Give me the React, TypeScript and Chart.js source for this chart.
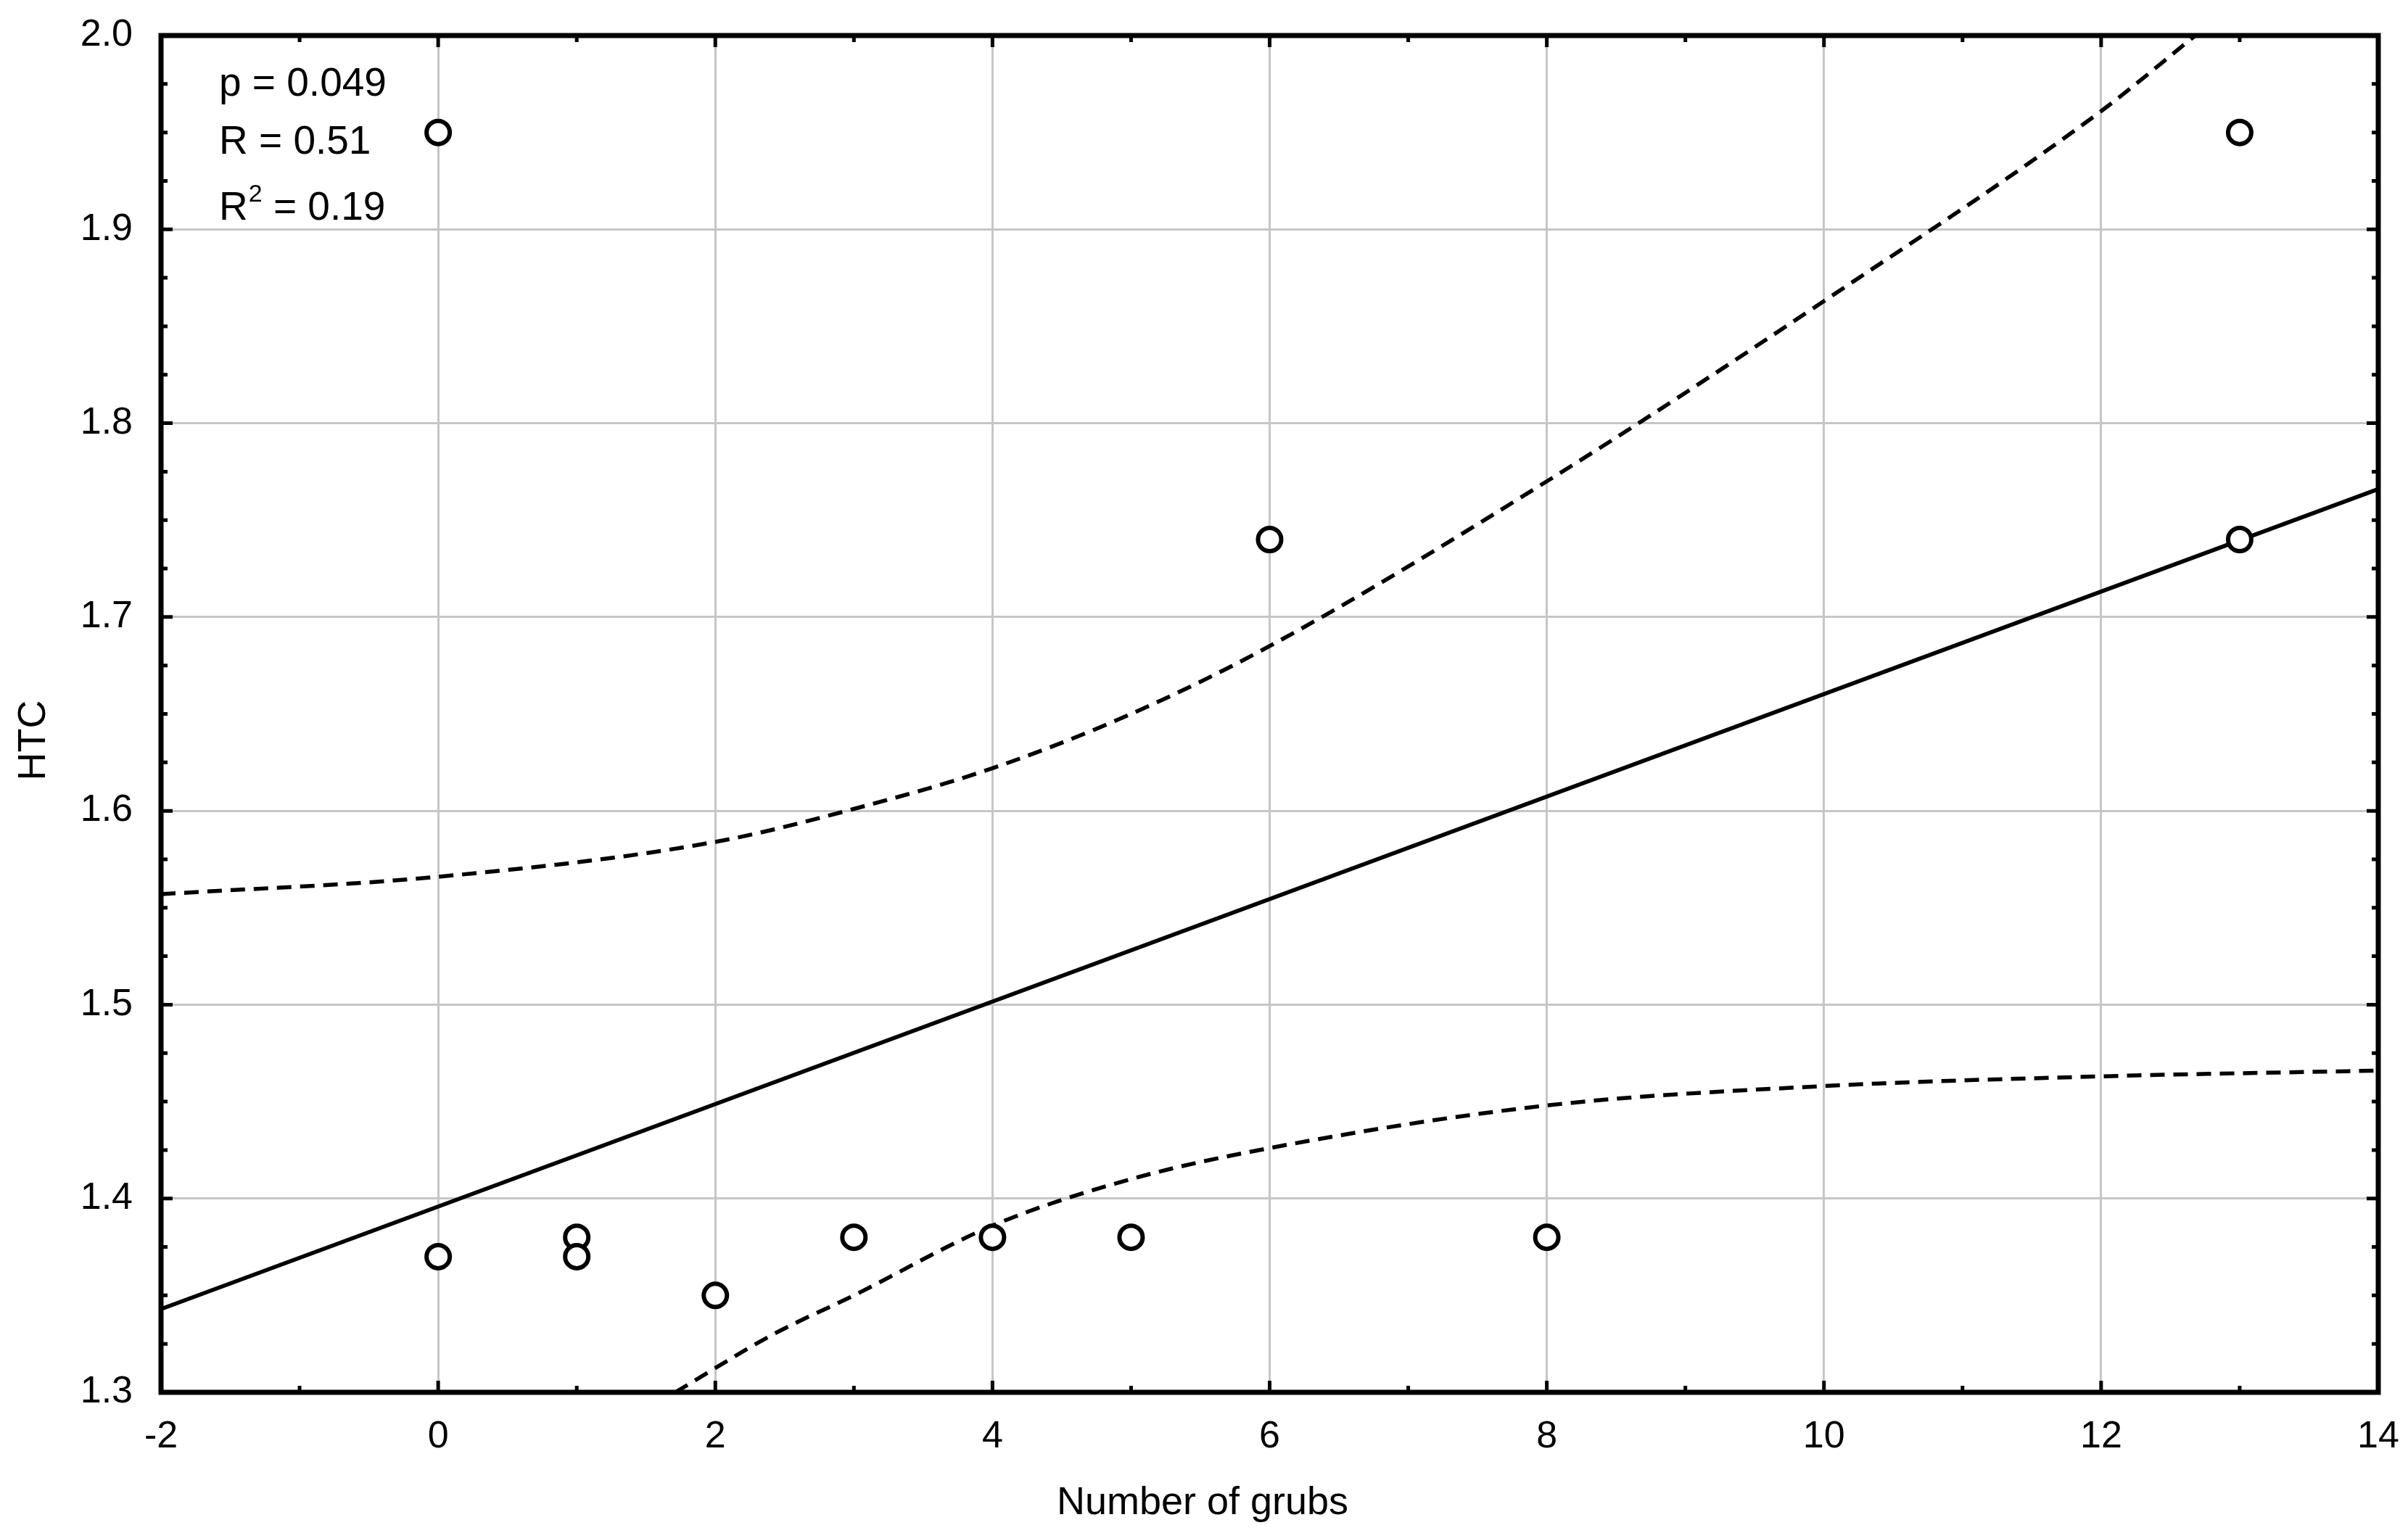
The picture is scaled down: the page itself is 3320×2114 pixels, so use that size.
import React, { useEffect, useRef } from "react";
import { Chart, registerables } from "chart.js";

Chart.register(...registerables);

// ---- data ----
const grubs = [0, 0, 1, 1, 2, 3, 4, 5, 6, 8, 13, 13];
const htc = [1.95, 1.37, 1.38, 1.37, 1.35, 1.38, 1.38, 1.38, 1.74, 1.38, 1.95, 1.74];

const fitX = [-2, 14];
const fitY = [1.343, 1.766];

const upperX = [-2, 0, 2, 3, 4, 5, 6, 8, 10, 12, 12.68];
const upperY = [1.557, 1.566, 1.584, 1.601, 1.622, 1.65, 1.685, 1.77, 1.863, 1.961, 2.0];

const lowerX = [1.71, 2.42, 3, 4, 5, 6, 8, 10, 12, 14];
const lowerY = [1.3, 1.33, 1.35, 1.386, 1.41, 1.426, 1.448, 1.458, 1.463, 1.466];

const xTickValues = [-2, 0, 2, 4, 6, 8, 10, 12, 14];
const xMinorTickValues = [-1, 1, 3, 5, 7, 9, 11, 13];
const yTickLabels = ["1.3", "1.4", "1.5", "1.6", "1.7", "1.8", "1.9", "2.0"];
const yMinorStep = 0.025;

const statP = "p = 0.049";
const statR = "R = 0.51";
const statR2Base = "R";
const statR2Sup = "2";
const statR2Rest = " = 0.19";

const xTitle = "Number of grubs";
const yTitle = "HTC";

const FONT = "'Liberation Sans', Arial, Helvetica, sans-serif";

const W = 3320;
const H = 2114;

const toPts = (xs: number[], ys: number[]) => xs.map((x, i) => ({ x, y: ys[i] }));

const framePlugin = {
  id: "frameAndText",
  afterDraw(chart: any) {
    const { ctx, chartArea: a, scales } = chart;
    const xs = scales.x;
    const ys = scales.y;
    ctx.save();
    ctx.strokeStyle = "#000";
    ctx.lineCap = "butt";
    ctx.lineWidth = 5;
    ctx.beginPath();
    const xAll = [...xTickValues.map((v) => [v, 16]), ...xMinorTickValues.map((v) => [v, 9])];
    for (const [v, len] of xAll) {
      const px = xs.getPixelForValue(v);
      ctx.moveTo(px, a.bottom);
      ctx.lineTo(px, a.bottom - len);
      ctx.moveTo(px, a.top);
      ctx.lineTo(px, a.top + len);
    }
    const n = Math.round((ys.max - ys.min) / yMinorStep);
    for (let i = 0; i <= n; i++) {
      const v = ys.min + i * yMinorStep;
      const py = ys.getPixelForValue(v);
      const len = i % 4 === 0 ? 16 : 9;
      ctx.moveTo(a.left, py);
      ctx.lineTo(a.left + len, py);
      ctx.moveTo(a.right, py);
      ctx.lineTo(a.right - len, py);
    }
    ctx.stroke();

    // frame
    ctx.lineWidth = 7;
    ctx.strokeRect(a.left, a.top, a.right - a.left, a.bottom - a.top);

    // statistics text
    ctx.fillStyle = "#000";
    ctx.textAlign = "left";
    ctx.textBaseline = "alphabetic";
    ctx.font = `55px ${FONT}`;
    const tx = a.left + 80;
    ctx.fillText(statP, tx, 132);
    ctx.fillText(statR, tx, 212);
    ctx.fillText(statR2Base, tx, 303);
    const rw = ctx.measureText(statR2Base).width;
    ctx.font = `34px ${FONT}`;
    ctx.fillText(statR2Sup, tx + rw + 1, 278);
    const sw = ctx.measureText(statR2Sup).width;
    ctx.font = `55px ${FONT}`;
    ctx.fillText(statR2Rest, tx + rw + sw + 1, 303);

    // axis titles
    ctx.font = `54px ${FONT}`;
    ctx.textAlign = "center";
    ctx.fillText(xTitle, 1658, 2088);
    ctx.save();
    ctx.translate(62, 1021);
    ctx.rotate(-Math.PI / 2);
    ctx.fillText(yTitle, 0, 0);
    ctx.restore();

    ctx.restore();
  },
};

export default function App() {
  const ref = useRef<HTMLCanvasElement | null>(null);

  useEffect(() => {
    if (!ref.current) return;
    const chart = new Chart(ref.current, {
      type: "scatter",
      data: {
        datasets: [
          {
            label: "Observations",
            data: toPts(grubs, htc),
            pointStyle: "circle",
            pointRadius: 16,
            pointBorderWidth: 6,
            pointBackgroundColor: "#ffffff",
            pointBorderColor: "#000000",
            showLine: false,
          },
          {
            label: "Regression",
            data: toPts(fitX, fitY),
            showLine: true,
            borderColor: "#000000",
            borderWidth: 5.5,
            pointRadius: 0,
          },
          {
            label: "Upper 95%",
            data: toPts(upperX, upperY),
            showLine: true,
            borderColor: "#000000",
            borderWidth: 5.5,
            borderDash: [20, 12],
            pointRadius: 0,
            cubicInterpolationMode: "monotone",
            tension: 0.4,
          },
          {
            label: "Lower 95%",
            data: toPts(lowerX, lowerY),
            showLine: true,
            borderColor: "#000000",
            borderWidth: 5.5,
            borderDash: [20, 12],
            pointRadius: 0,
            cubicInterpolationMode: "monotone",
            tension: 0.4,
          },
        ] as any,
      },
      options: {
        animation: false,
        responsive: false,
        devicePixelRatio: 1,
        layout: { padding: { top: 49, right: 41, left: 0, bottom: 0 } },
        plugins: {
          legend: { display: false },
          tooltip: { enabled: false },
        },
        scales: {
          x: {
            type: "linear",
            min: -2,
            max: 14,
            border: { display: false },
            grid: { color: "#c6c6c6", lineWidth: 3, drawTicks: false },
            ticks: {
              stepSize: 2,
              padding: 30,
              color: "#000",
              font: { family: FONT, size: 52 },
              callback: (v: any) => (xTickValues.includes(Number(v)) ? String(v) : ""),
            },
            afterFit: (s: any) => {
              s.height = 194;
              s.paddingLeft = 0;
              s.paddingRight = 0;
            },
          },
          y: {
            type: "linear",
            min: 1.3,
            max: 2.0,
            border: { display: false },
            grid: { color: "#c6c6c6", lineWidth: 3, drawTicks: false },
            ticks: {
              stepSize: 0.1,
              padding: 39,
              color: "#000",
              font: { family: FONT, size: 52 },
              callback: (v: any) => {
                const i = Math.round((Number(v) - 1.3) / 0.1);
                return yTickLabels[i] ?? "";
              },
            },
            afterFit: (s: any) => {
              s.width = 222;
              s.paddingTop = 0;
              s.paddingBottom = 0;
            },
          },
        },
      },
      plugins: [framePlugin],
    });
    return () => chart.destroy();
  }, []);

  return (
    <div style={{ position: "fixed", left: 0, top: 0, width: W, height: H, background: "#fff" }}>
      <canvas ref={ref} width={W} height={H} style={{ width: W, height: H, display: "block" }} />
    </div>
  );
}
